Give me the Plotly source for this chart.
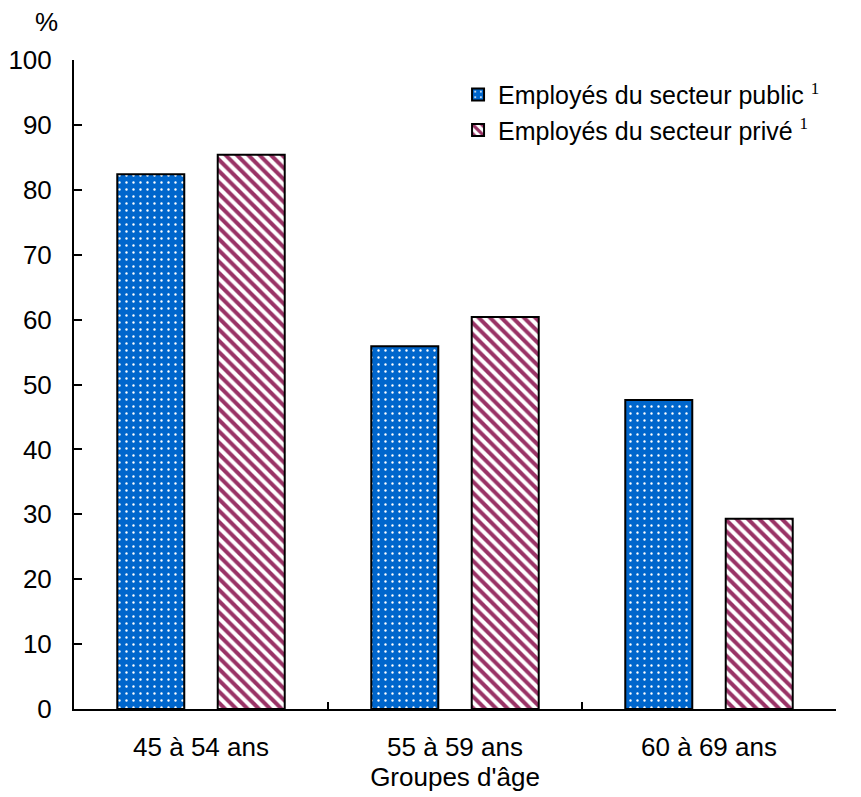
import plotly.graph_objects as go

categories = ["45 à 54 ans", "55 à 59 ans", "60 à 69 ans"]
public_values = [82.4, 55.9, 47.6]
private_values = [85.4, 60.4, 29.3]
series_names = ["Employés du secteur public", "Employés du secteur privé"]
y_ticks = list(range(0, 101, 10))

sup = ' <sup><span style="font-family:Liberation Serif;font-size:17px">1</span></sup>'

fig = go.Figure()
fig.add_trace(go.Bar(
    x=categories, y=public_values, name=series_names[0] + sup,
    marker=dict(color="#0066CC", line=dict(color="black", width=2),
                pattern=dict(shape=".", fgcolor="white", bgcolor="#0066CC", fgopacity=1,
                             size=7, solidity=0.09)),
))
fig.add_trace(go.Bar(
    x=categories, y=private_values, name=series_names[1] + sup,
    marker=dict(color="white", line=dict(color="black", width=2),
                pattern=dict(shape="\\", fgcolor="#993366", bgcolor="white", fgopacity=1,
                             size=8, solidity=0.5)),
))

fig.update_layout(
    width=861, height=797,
    margin=dict(l=66, r=33, t=52, b=96, autoexpand=False),
    paper_bgcolor="white", plot_bgcolor="white",
    barmode="group", bargap=0.209, bargroupgap=0.333,
    font=dict(family="Liberation Sans, Arial", size=26, color="black"),
    showlegend=True,
    legend=dict(x=0.504, y=0.982, xanchor="left", yanchor="top", bgcolor="rgba(0,0,0,0)",
                font=dict(size=25), traceorder="normal", itemwidth=30, tracegroupgap=0),
    xaxis=dict(showline=True, linecolor="black", linewidth=2, ticks="inside", tickson="boundaries",
               ticklen=7, tickwidth=1.5, tickcolor="black", showgrid=False, automargin=False,
               ticklabelstandoff=14,
               title=dict(text="Groupes d'âge", standoff=0, font=dict(size=26))),
    yaxis=dict(range=[0, 100], tickvals=y_ticks, showline=True, linecolor="black", linewidth=2,
               ticks="inside", ticklen=8, tickwidth=1.5, tickcolor="black", showgrid=False,
               zeroline=False, ticklabelstandoff=15, automargin=False),
    annotations=[dict(text="%", x=0, xref="paper", xanchor="center", xshift=-28,
                      y=1, yref="paper", yanchor="bottom", yshift=21, showarrow=False,
                      font=dict(size=26))],
)

fig.write_html("out.html")
